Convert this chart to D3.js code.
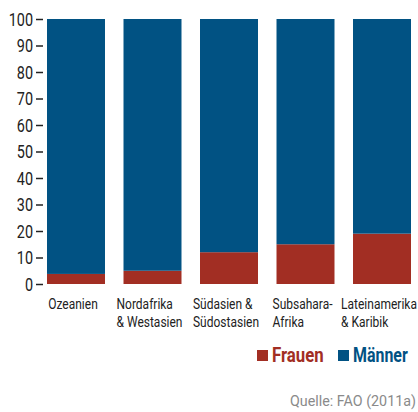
<!DOCTYPE html>
<html>
<head>
<meta charset="utf-8">
<script src="https://cdn.jsdelivr.net/npm/d3@7"></script>
<style>
body { margin: 0; background: #fff; }
svg text { font-family: Roboto, "Liberation Sans", sans-serif; }
</style>
</head>
<body>
<svg id="chart" width="418" height="412"></svg>
<script>
var regions = [
	["Ozeanien"],
	["Nordafrika", "& Westasien"],
	["Südasien &", "Südostasien"],
	["Subsahara-", "Afrika"],
	["Lateinamerika", "& Karibik"]
];
var frauen = [3.8, 5, 12, 15, 19];
var maenner = [96.2, 95, 88, 85, 81];
var yTicks = [0, 10, 20, 30, 40, 50, 60, 70, 80, 90, 100];

var RED = "#a22e23";
var BLUE = "#015283";
var SQUEEZE = 0.8; // no condensed font installed, so squash text horizontally

var svg = d3.select("#chart");

var x = d3.scaleBand()
	.domain(d3.range(regions.length))
	.range([47, 411])
	.paddingInner(0.242)
	.paddingOuter(0);

var y = d3.scaleLinear()
	.domain([0, 100])
	.range([284, 19]);

// text placed at (px, py) and squeezed horizontally
function condText(px, py, sx) {
	return svg.append("text")
		.attr("transform", "translate(" + px + "," + py + ") scale(" + sx + ",1)");
}

// stacked bars
var stack = d3.stack().keys(["f", "m"]);
var rows = frauen.map(function(v, i) { return { f: v, m: maenner[i], i: i }; });
var layers = stack(rows);
var colors = [RED, BLUE];

svg.selectAll("g.layer")
	.data(layers)
	.enter().append("g")
	.attr("class", "layer")
	.attr("fill", function(d, i) { return colors[i]; })
	.selectAll("rect")
	.data(function(d) { return d; })
	.enter().append("rect")
	.attr("x", function(d) { return x(d.data.i); })
	.attr("width", x.bandwidth())
	.attr("y", function(d) { return y(d[1]); })
	.attr("height", function(d) { return y(d[0]) - y(d[1]); });

// y axis: numbers with short dashes
svg.append("g").selectAll("line")
	.data(yTicks)
	.enter().append("line")
	.attr("x1", 36).attr("x2", 43)
	.attr("y1", function(d) { return y(d) + 0.5; })
	.attr("y2", function(d) { return y(d) + 0.5; })
	.attr("stroke", "#222")
	.attr("stroke-width", 1.5);
yTicks.forEach(function(d) {
	condText(33, y(d) + 6.5, SQUEEZE)
		.attr("text-anchor", "end")
		.attr("font-size", 18)
		.attr("fill", "#222")
		.text(d);
});

// category labels, left aligned blocks centred under each bar
regions.forEach(function(lines, i) {
	var t = condText(0, 0, SQUEEZE)
		.attr("font-size", 15)
		.attr("fill", "#222");
	lines.forEach(function(s, k) {
		t.append("tspan")
			.attr("x", 0)
			.attr("y", k * 18)
			.text(s);
	});
	var w = d3.max(t.selectAll("tspan").nodes(), function(n) { return n.getComputedTextLength(); }) * SQUEEZE;
	var left = Math.min(x(i) + x.bandwidth() / 2 - w / 2 - 3, 343);
	t.attr("transform", "translate(" + left + ",309) scale(" + SQUEEZE + ",1)");
});

// fit a text to a given width
function fitText(px, py, width, size, s) {
	var t = condText(px, py, 1).attr("font-size", size).text(s);
	var sx = width / t.node().getComputedTextLength();
	t.attr("transform", "translate(" + px + "," + py + ") scale(" + sx + ",1)");
	return t;
}

// legend
var legend = [["Frauen", RED, 257, 51], ["Männer", BLUE, 338, 54]];
legend.forEach(function(l) {
	svg.append("rect")
		.attr("x", l[2]).attr("y", 350)
		.attr("width", 11).attr("height", 11)
		.attr("fill", l[1]);
	fitText(l[2] + 15, 362, l[3], 19.5, l[0])
		.attr("font-weight", "bold")
		.attr("fill", l[1]);
});

fitText(290, 406, 126, 15.5, "Quelle: FAO (2011a)")
	.attr("fill", "#8a8a8a");
</script>
</body>
</html>
